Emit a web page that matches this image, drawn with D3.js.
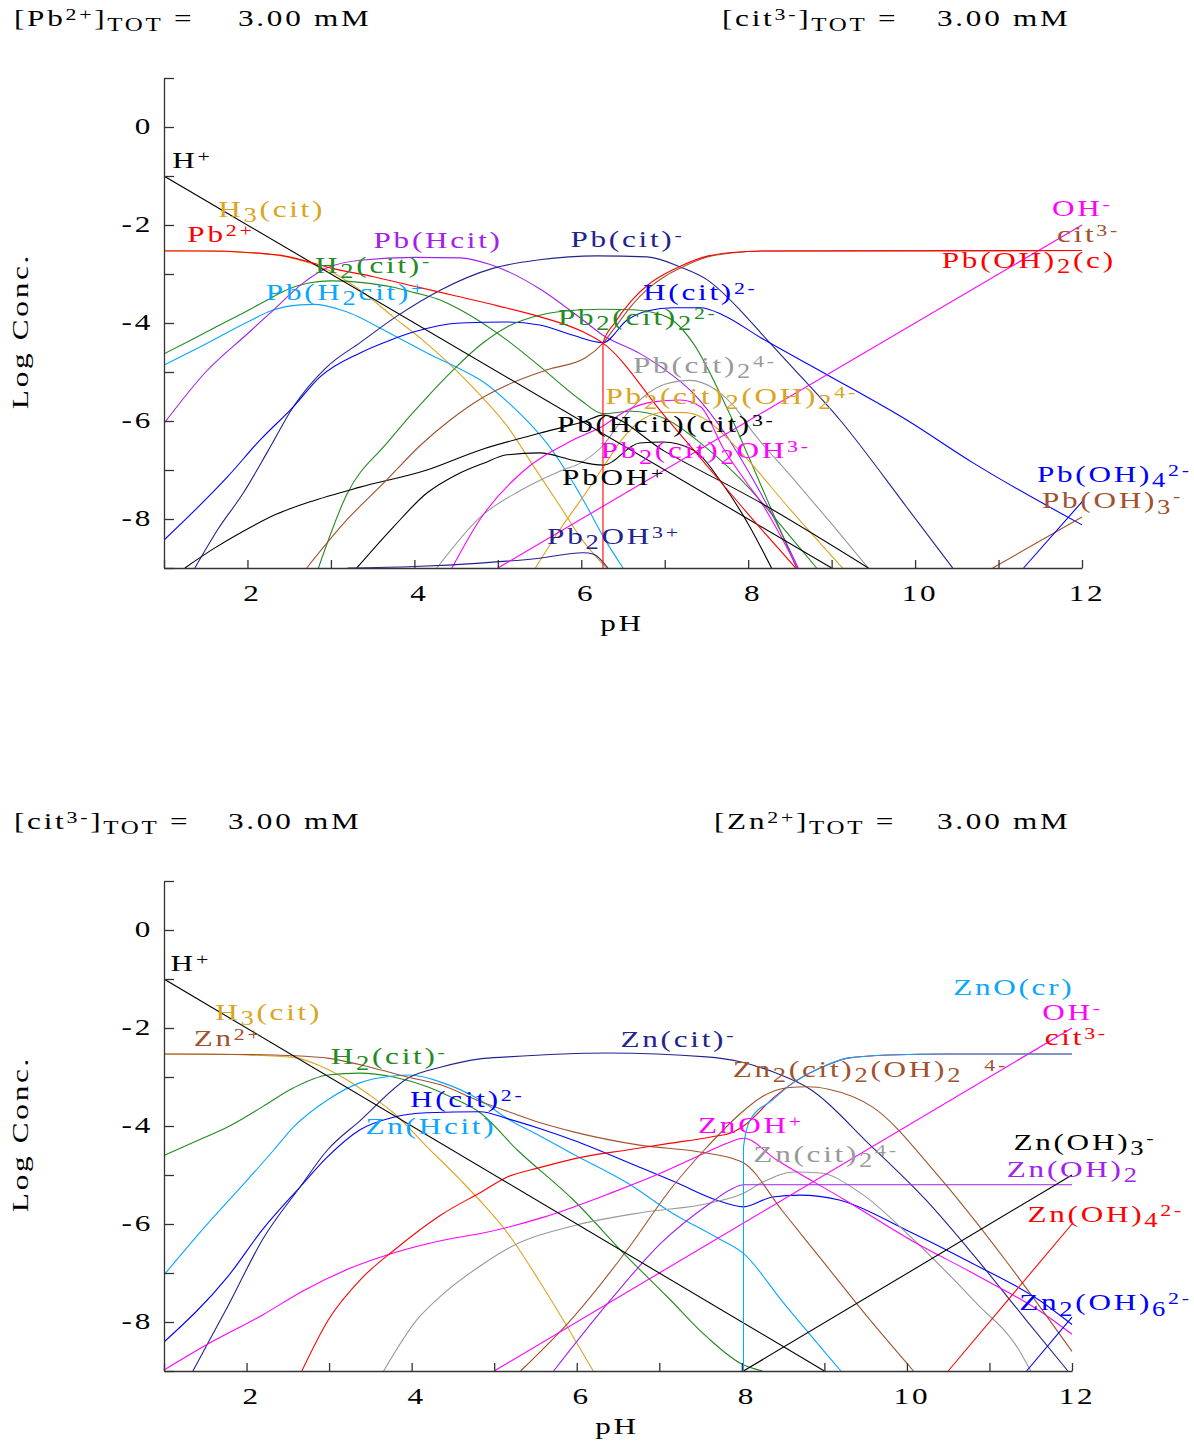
<!DOCTYPE html>
<html><head><meta charset="utf-8">
<script src="https://cdn.jsdelivr.net/npm/d3@7"></script>
<style>
body{margin:0;background:#fff}
svg text{font-family:"Liberation Serif","Times New Roman",serif}
</style></head><body>
<svg id="chart" width="1194" height="1441"></svg>
<script>
// ---------- Pb(II) – citrate system: log concentration vs pH ----------
const pbHplus    = [[1,-1],[9,-9]];
const pbOHminus  = [[5,-9],[12,-2]];
const pbH3cit    = [[1,-2.52],[1.5,-2.53],[2,-2.56],[2.5,-2.66],[2.75,-2.78],[3,-2.95],[3.35,-3.33],[3.75,-3.88],[4.1,-4.35],[4.43,-4.85],[4.75,-5.4],[5.11,-6.1],[5.42,-6.9],[5.75,-7.75],[6.0,-8.4],[6.3,-9]];
const pbPb       = [[1,-2.53],[1.5,-2.53],[2,-2.56],[2.5,-2.65],[2.75,-2.76],[3,-2.88],[3.5,-3.05],[4,-3.25],[4.5,-3.45],[5,-3.65],[5.5,-3.87],[6.02,-4.18],[6.26,-4.41],[7,-5.9],[7.5,-6.9],[8,-7.9],[8.57,-9]];
const pbPbOH2c   = [[6.26,-9],[6.26,-4.41],[6.4,-4.0],[6.6,-3.55],[6.8,-3.22],[7.0,-3.0],[7.2,-2.83],[7.5,-2.64],[7.8,-2.56],[8.2,-2.53],[12,-2.52]];
const pbCit      = [[2.71,-9],[3.19,-8.02],[3.67,-7.2],[4.07,-6.5],[4.43,-5.98],[4.83,-5.51],[5.2,-5.2],[5.6,-4.95],[6.05,-4.71],[6.26,-4.41],[6.4,-4.1],[6.6,-3.65],[6.8,-3.3],[7.0,-3.05],[7.2,-2.87],[7.5,-2.66],[7.8,-2.57],[8.2,-2.53],[12,-2.52]];
const pbH2cit    = [[1,-4.63],[1.32,-4.35],[1.6,-4.1],[2,-3.75],[2.27,-3.5],[2.5,-3.3],[2.75,-3.18],[3,-3.14],[3.35,-3.17],[3.75,-3.27],[4.0,-3.38],[4.31,-3.53],[4.55,-3.73],[5.11,-4.35],[5.5,-4.88],[5.99,-5.57],[6.26,-5.85],[6.6,-5.8],[7.0,-5.95],[7.5,-6.55],[8.0,-7.35],[8.5,-8.35],[8.82,-9]];
const pbPbHcit   = [[1,-6.05],[1.5,-5.0],[2,-4.22],[2.27,-3.8],[2.67,-3.18],[2.95,-2.88],[3.35,-2.72],[4,-2.66],[4.55,-2.67],[4.9,-2.8],[5.5,-3.3],[6.02,-3.94],[6.26,-4.25],[6.7,-4.62],[7.0,-4.95],[7.34,-5.43],[7.7,-6.2],[8.06,-7.2],[8.3,-7.95],[8.6,-9]];
const pbPbH2cit  = [[1,-4.86],[1.5,-4.43],[2,-3.98],[2.3,-3.74],[2.63,-3.63],[2.8,-3.62],[3.15,-3.75],[3.75,-4.25],[4.23,-4.68],[4.5,-4.9],[4.84,-5.22],[5.11,-5.6],[5.63,-6.55],[6.02,-7.6],[6.26,-8.35],[6.5,-9]];
const pbPbcit    = [[1.37,-9],[1.65,-8.2],[1.95,-7.47],[2.25,-6.6],[2.55,-5.71],[2.95,-4.9],[3.35,-4.4],[3.8,-3.85],[4.31,-3.33],[4.95,-2.88],[5.5,-2.71],[6.19,-2.63],[6.79,-2.65],[7.19,-2.86],[7.51,-3.12],[7.9,-3.73],[8.15,-4.2],[8.5,-4.85],[9.1,-5.98],[9.9,-7.76],[10.45,-9]];
const pbHcit     = [[1,-8.43],[1.5,-7.6],[1.76,-7.14],[2.15,-6.39],[2.55,-5.71],[2.87,-5.1],[3.35,-4.61],[3.71,-4.35],[4.0,-4.18],[4.55,-4.0],[5.11,-3.98],[5.5,-4.04],[5.9,-4.25],[6.26,-4.4],[6.55,-3.94],[6.8,-3.75],[7.1,-3.69],[7.43,-3.69],[7.7,-3.84],[8.15,-4.3],[8.95,-5.06],[9.9,-5.98],[10.7,-6.86],[12,-8.12]];
const pbPb2cit2  = [[2.85,-9],[3.19,-7.5],[3.67,-6.45],[4.23,-5.37],[4.5,-4.9],[4.79,-4.45],[5.11,-4.08],[5.5,-3.84],[6.02,-3.73],[6.26,-3.72],[6.62,-3.73],[7.03,-3.88],[7.34,-4.41],[7.7,-5.57],[8.15,-7.3],[8.58,-9]];
const pbPbcit2   = [[4.27,-9],[4.79,-7.96],[5.27,-7.42],[5.75,-7.02],[6.0,-6.85],[6.26,-6.5],[6.5,-5.95],[6.75,-5.5],[7.0,-5.25],[7.3,-5.17],[7.6,-5.35],[7.9,-5.85],[8.0,-6.1],[8.5,-7.1],[9.0,-8.1],[9.44,-9]];
const pbPb2cit2OH2 = [[5.45,-9],[5.75,-8.2],[6.0,-7.6],[6.26,-6.95],[6.5,-6.35],[6.75,-5.95],[7.0,-5.82],[7.25,-5.83],[7.5,-5.98],[7.75,-6.35],[8.0,-6.8],[8.5,-7.8],[9.13,-9]];
const pbPbHcitcit = [[3.31,-9],[3.75,-8.16],[4.15,-7.47],[4.5,-7.1],[4.83,-6.86],[5.11,-6.69],[5.5,-6.65],[5.9,-6.8],[6.26,-6.9],[6.7,-6.45],[6.98,-6.43],[7.34,-6.59],[7.7,-7.3],[8.0,-8.1],[8.28,-9]];
const pbPb2cit2OH = [[4.45,-9],[4.79,-8.0],[5.3,-7.03],[5.9,-6.39],[6.26,-6.1],[6.55,-5.78],[6.86,-5.61],[7.19,-5.57],[7.43,-5.71],[7.7,-6.55],[8.0,-7.3],[8.15,-7.65],[8.59,-9]];
const pbPbOH     = [[1.25,-9],[1.6,-8.6],[1.95,-8.25],[2.35,-7.9],[2.75,-7.65],[3.35,-7.35],[4.15,-7.0],[4.79,-6.59],[5.5,-6.25],[6.05,-6.0],[6.26,-5.88],[7,-6.62],[8.15,-7.67],[9.44,-9]];
const pbPb2OH    = [[3.2,-9],[4.0,-8.97],[4.79,-8.9],[5.5,-8.8],[6.02,-8.69],[6.15,-8.72],[6.26,-8.88],[6.32,-9]];
const pbPbOH3    = [[10.93,-9],[12,-7.96]];
const pbPbOH4    = [[11.3,-9],[12,-7.65]];

// ---------- Zn(II) – citrate system ----------
const znHplus    = [[1,-1],[9,-9]];
const znOHminus  = [[5,-9],[12,-2]];
const znH3cit    = [[1,-2.53],[1.5,-2.53],[2,-2.55],[2.57,-2.6],[2.9,-2.78],[3.22,-3.06],[3.5,-3.38],[3.78,-3.73],[4.19,-4.43],[4.59,-5.1],[4.88,-5.62],[5.16,-6.18],[5.56,-7.2],[5.96,-8.31],[6.2,-9]];
const znZn       = [[1,-2.53],[2,-2.54],[2.5,-2.56],[3,-2.62],[3.5,-2.8],[3.95,-3.0],[4.35,-3.16],[4.83,-3.5],[5.16,-3.7],[5.55,-3.93],[5.96,-4.12],[6.76,-4.39],[7.49,-4.53],[7.88,-4.66],[8.02,-4.75],[8.5,-5.75],[9.0,-6.8],[9.5,-7.85],[10.08,-9]];
const znH2cit    = [[1,-4.6],[1.4,-4.3],[1.77,-4.02],[2.2,-3.6],[2.57,-3.22],[2.98,-2.96],[3.37,-2.92],[3.78,-3.0],[4.19,-3.2],[4.5,-3.43],[4.83,-3.73],[5.28,-4.49],[5.96,-5.51],[6.61,-6.67],[7.1,-7.49],[7.58,-8.31],[7.98,-8.84],[8.25,-9]];
const znZnHcit   = [[1,-7.04],[1.5,-6.05],[2.01,-5.1],[2.33,-4.49],[2.57,-4.02],[2.98,-3.47],[3.37,-3.12],[3.78,-2.98],[3.98,-2.96],[4.38,-3.12],[4.83,-3.47],[5.16,-3.85],[5.55,-4.2],[5.93,-4.55],[6.61,-5.16],[7.16,-5.78],[7.69,-6.27],[8.02,-6.6],[8.5,-7.6],[9.2,-9]];
const znHcit     = [[1,-8.41],[1.77,-7.08],[2.2,-6.1],[2.65,-5.24],[2.98,-4.63],[3.37,-4.08],[3.78,-3.82],[4.19,-3.73],[4.83,-3.71],[5.16,-3.85],[5.55,-4.05],[5.96,-4.29],[6.76,-4.84],[7.2,-5.15],[7.69,-5.51],[8.02,-5.65],[8.37,-5.45],[8.7,-5.41],[9.18,-5.51],[9.99,-6.12],[10.79,-6.8],[11.6,-7.55],[12,-8.05]];
const znZncit    = [[1.35,-9],[1.77,-7.69],[2.2,-6.3],[2.65,-5.24],[2.98,-4.49],[3.37,-3.9],[3.98,-3.0],[4.35,-2.8],[4.83,-2.63],[5.16,-2.59],[6.37,-2.51],[7.57,-2.59],[7.98,-2.69],[8.46,-2.95],[8.78,-3.2],[9.58,-4.43],[10.23,-5.51],[10.79,-6.6],[11.44,-7.95],[11.95,-9]];
const znZn2cit2OH2 = [[5.32,-9],[5.96,-7.9],[6.61,-6.53],[7.16,-5.24],[7.54,-4.5],[7.98,-3.75],[8.25,-3.4],[8.55,-3.22],[8.8,-3.2],[9.05,-3.25],[9.58,-3.61],[10.39,-5.04],[11.19,-6.73],[12,-8.6]];
const znCit      = [[2.67,-9],[2.99,-7.96],[3.4,-7.1],[3.79,-6.53],[4.35,-5.82],[4.84,-5.35],[5.16,-5.04],[5.55,-4.85],[6.08,-4.63],[6.61,-4.49],[7.14,-4.35],[7.64,-4.22],[7.9,-4.12],[8.02,-4.0],[8.4,-3.4],[8.62,-3.12],[8.97,-2.8],[9.3,-2.61],[9.78,-2.55],[10.5,-2.53],[12,-2.53]];
const znZnOcr    = [[8.02,-9],[8.02,-4.43],[8.1,-3.88],[8.37,-3.47],[8.62,-3.12],[8.97,-2.8],[9.3,-2.61],[9.78,-2.55],[10.5,-2.53],[12,-2.53]];
const znZnOH     = [[1,-8.98],[1.5,-8.48],[2.2,-7.85],[2.7,-7.35],[3.26,-6.9],[3.82,-6.57],[4.38,-6.33],[4.88,-6.18],[5.6,-5.86],[6.41,-5.37],[7.02,-4.96],[7.58,-4.53],[7.82,-4.35],[8.02,-4.25],[8.42,-4.69],[9.25,-5.51],[10.05,-6.33],[10.85,-7.05],[11.65,-7.82],[12,-8.25]];
const znZncit2   = [[3.66,-9],[4.06,-7.96],[4.38,-7.43],[4.88,-6.8],[5.2,-6.47],[6.0,-6.02],[6.81,-5.76],[7.62,-5.57],[8.02,-5.37],[8.26,-5.14],[8.63,-4.94],[8.95,-4.96],[9.44,-5.37],[10.05,-6.27],[10.85,-7.63],[11.35,-8.55],[11.5,-9]];
const znZnOH2    = [[5.72,-9],[6.41,-7.55],[7.02,-6.39],[7.62,-5.57],[7.86,-5.3],[8.02,-5.2],[12,-5.2]];
const znZnOH3    = [[8.02,-9],[12,-5.0]];
const znZnOH4    = [[10.5,-9],[12,-6.0]];
const znZn2OH6   = [[11.45,-9],[12,-7.9]];

// axis ticks
const xTickValues  = [1,2,3,4,5,6,7,8,9,10,11,12];
const xTickLabels  = [2,4,6,8,10,12];
const yTickValues  = [-9,-8,-7,-6,-5,-4,-3,-2,-1,0,1];
const yTickLabels  = [0,-2,-4,-6,-8];

// ---------- styling ----------
const C = {
  black:"#000000", gold:"#DAA520", red:"#FF0000", purple:"#A020F0",
  green:"#228B22", sky:"#0AA6FF", navy:"#23238E", blue:"#0000FF",
  gray:"#999999", magenta:"#FF00FF", brown:"#A0522D"
};

const pbSeries = [
  [pbH3cit,C.gold],[pbH2cit,C.green],[pbPbH2cit,C.sky],[pbPbHcit,C.purple],
  [pbPbcit,C.navy],[pbHcit,C.blue],[pbPb2cit2,C.green],[pbPbcit2,C.gray],
  [pbPb2cit2OH2,C.gold],[pbPbHcitcit,C.black],[pbPb2cit2OH,C.magenta],
  [pbPbOH,C.black],[pbPb2OH,C.navy],[pbCit,C.brown],[pbPbOH3,C.brown],[pbPbOH4,C.blue],
  [pbOHminus,C.magenta],[pbHplus,C.black],[pbPb,C.red],[pbPbOH2c,C.red]
];
const znSeries = [
  [znH3cit,C.gold],[znH2cit,C.green],[znZnHcit,C.sky],[znHcit,C.blue],
  [znZncit,C.navy],[znZncit2,C.gray],[znZnOH,C.magenta],[znZnOH2,C.purple],
  [znZn2cit2OH2,C.brown],[znZn,C.brown],[znCit,C.red],[znZnOH3,C.black],
  [znZnOH4,C.red],[znZn2OH6,C.blue],[znOHminus,C.magenta],[znHplus,C.black],[znZnOcr,C.sky]
];

// species labels: markup, anchor in (pH, log conc), colour
const pbLabels = [
  ["H^{+}",[1.1,-0.83],C.black],
  ["H_{3}(cit)",[1.65,-1.84],C.gold],
  ["Pb^{2+}",[1.28,-2.35],C.red],
  ["Pb(Hcit)",[3.51,-2.47],C.purple],
  ["H_{2}(cit)^{-}",[2.81,-2.98],C.green],
  ["Pb(H_{2}cit)^{+}",[2.22,-3.53],C.sky],
  ["Pb(cit)^{-}",[5.87,-2.45],C.navy],
  ["H(cit)^{2-}",[6.74,-3.53],C.blue],
  ["Pb_{2}(cit)_{2}^{2-}",[5.72,-4.04],C.green],
  ["Pb(cit)_{2}^{4-}",[6.62,-5.02],C.gray],
  ["Pb_{2}(cit)_{2}(OH)_{2}^{4-}",[6.29,-5.65],C.gold],
  ["Pb(Hcit)(cit)^{3-}",[5.71,-6.22],C.black],
  ["Pb_{2}(cit)_{2}OH^{3-}",[6.23,-6.76],C.magenta],
  ["PbOH^{+}",[5.77,-7.31],C.black],
  ["Pb_{2}OH^{3+}",[5.59,-8.51],C.navy],
  ["OH^{-}",[11.64,-1.82],C.magenta],
  ["cit^{3-}",[11.7,-2.35],C.brown],
  ["Pb(OH)_{2}(c)",[10.32,-2.88],C.red],
  ["Pb(OH)_{4}^{2-}",[11.46,-7.24],C.blue],
  ["Pb(OH)_{3}^{-}",[11.52,-7.78],C.brown]
];
const znLabels = [
  ["H^{+}",[1.08,-0.84],C.black],
  ["H_{3}(cit)",[1.62,-1.84],C.gold],
  ["Zn^{2+}",[1.36,-2.37],C.brown],
  ["H_{2}(cit)^{-}",[3.02,-2.74],C.green],
  ["Zn(cit)^{-}",[6.53,-2.39],C.navy],
  ["H(cit)^{2-}",[3.98,-3.61],C.blue],
  ["Zn(Hcit)",[3.44,-4.16],C.sky],
  ["Zn_{2}(cit)_{2}(OH)_{2}\u00A0\u00A0^{4-}",[7.89,-3.0],C.brown],
  ["ZnOH^{+}",[7.47,-4.14],C.magenta],
  ["Zn(cit)_{2}^{4-}",[8.14,-4.73],C.gray],
  ["ZnO(cr)",[10.56,-1.33],C.sky],
  ["OH^{-}",[11.64,-1.84],C.magenta],
  ["cit^{3-}",[11.67,-2.35],C.red],
  ["Zn(OH)_{3}^{-}",[11.29,-4.49],C.black],
  ["Zn(OH)_{2}",[11.21,-5.04],C.purple],
  ["Zn(OH)_{4}^{2-}",[11.46,-5.96],C.red],
  ["Zn_{2}(OH)_{6}^{2-}",[11.36,-7.76],C.blue]
];

const FS = 24, SX = 1.3, LS = "2.1px";
const svg = d3.select("#chart");

// text with _{sub} and ^{sup} markup, stretched horizontally
function richText(parent, markup, x, y, opts = {}) {
  const size = opts.size || FS;
  const g = parent.append("g")
    .attr("transform", `translate(${x},${y})${opts.rotate ? ` rotate(${opts.rotate})` : ""} scale(${SX},1)`);
  const t = g.append("text").attr("font-size", size)
    .attr("fill", opts.color || "#000")
    .attr("text-anchor", opts.anchor || "start")
    .style("letter-spacing", LS);
  const re = /([_^])\{([^}]*)\}|([^_^]+)/g;
  let m, cur = 0;
  while ((m = re.exec(markup))) {
    let target = 0, fs = null, str;
    if (m[1] === "_") { target = size * 0.22; fs = size * (opts.subScale || 0.85); str = m[2]; }
    else if (m[1] === "^") { target = -size * 0.25; fs = size * 0.7; str = m[2]; }
    else str = m[3];
    const ts = t.append("tspan").attr("dy", target - cur).text(str);
    if (fs) ts.attr("font-size", fs);
    cur = target;
  }
  return t;
}

function drawPanel(cfg) {
  const x = d3.scaleLinear().domain([1, 12]).range(cfg.xr);
  const y = d3.scaleLinear().domain([-9, 1]).range(cfg.yr);
  const g = svg.append("g");

  const clipId = "clip" + cfg.id;
  svg.append("clipPath").attr("id", clipId).append("rect")
    .attr("x", cfg.xr[0]).attr("y", cfg.yr[1] - 2)
    .attr("width", cfg.xr[1] - cfg.xr[0] + 1).attr("height", cfg.yr[0] - cfg.yr[1] + 3);

  const line = d3.line().x(d => x(d[0])).y(d => y(d[1])).curve(d3.curveMonotoneX);
  const lines = g.append("g").attr("clip-path", `url(#${clipId})`);
  cfg.series.forEach(([data, color]) => {
    lines.append("path").attr("d", line(data))
      .attr("fill", "none").attr("stroke", color).attr("stroke-width", 1.1);
  });

  // axes with inward ticks
  const xAxis = d3.axisBottom(x).tickValues(xTickValues).tickSizeInner(-8).tickSizeOuter(0).tickFormat("");
  const yAxis = d3.axisLeft(y).tickValues(yTickValues).tickSizeInner(-10).tickSizeOuter(0).tickFormat("");
  const ax = g.append("g").attr("transform", `translate(0,${cfg.yr[0]})`).call(xAxis);
  const ay = g.append("g").attr("transform", `translate(${cfg.xr[0]},0)`).call(yAxis);
  [ax, ay].forEach(a => {
    a.selectAll("path,line").attr("stroke", "#333").attr("stroke-width", 1.3);
  });

  xTickLabels.forEach(v => richText(g, String(v), x(v) + 5, cfg.yr[0] + 33, { anchor: "middle" }));
  yTickLabels.forEach(v => richText(g, String(v), 153, y(v) + 7, { anchor: "end" }));

  richText(g, "pH", cfg.xr[0] + 458 - (cfg.id === 1 ? 5 : 0), cfg.yr[0] + 63, { anchor: "middle" });
  richText(g, "Log Conc.", 28, (cfg.yr[0] + cfg.yr[1]) / 2 + 8, { anchor: "middle", rotate: -90 });

  cfg.labels.forEach(([txt, pos, color]) => richText(g, txt, x(pos[0]), y(pos[1]), { color }));

  cfg.header.forEach(([txt, hx, hy]) => richText(g, txt, hx, hy, { subScale: 0.8 }));
}

drawPanel({
  id: 0, xr: [164, 1082], yr: [568, 78], series: pbSeries, labels: pbLabels,
  header: [["[Pb^{2+}]_{TOT} =", 14, 26], ["3.00 mM", 238, 26], ["[cit^{3-}]_{TOT} =", 722, 26], ["3.00 mM", 937, 26]]
});
drawPanel({
  id: 1, xr: [164, 1072], yr: [1371, 881], series: znSeries, labels: znLabels,
  header: [["[cit^{3-}]_{TOT} =", 14, 829], ["3.00 mM", 228, 829], ["[Zn^{2+}]_{TOT} =", 714, 829], ["3.00 mM", 937, 829]]
});
</script>
</body></html>
